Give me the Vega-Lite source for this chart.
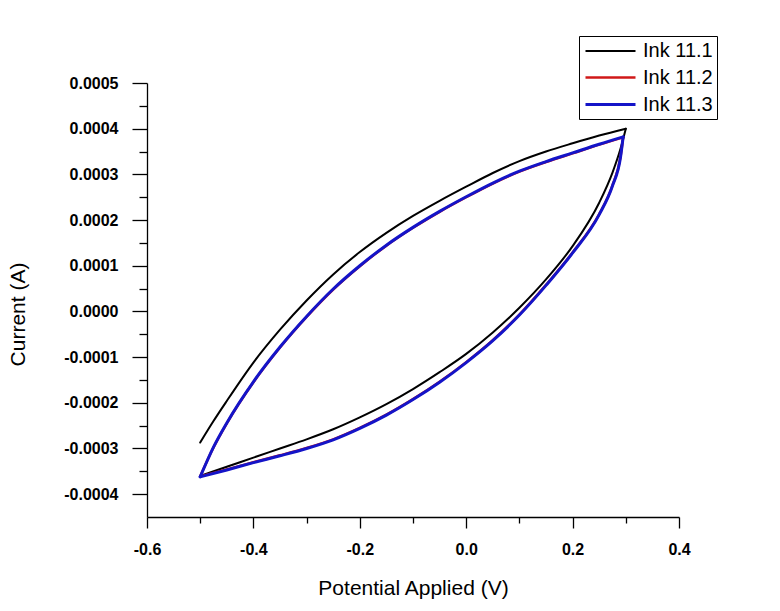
{
  "$schema": "https://vega.github.io/schema/vega-lite/v6.json",
  "width": 532,
  "height": 434,
  "autosize": {"type": "none"},
  "padding": {"left": 147, "top": 83, "right": 101, "bottom": 94},
  "background": "white",
  "config": {"view": {"stroke": null}},
  "data": {"values": [
    {"s": "Ink 11.1", "b": "lower", "x": -0.5, "y": -0.000360},
    {"s": "Ink 11.1", "b": "lower", "x": -0.45, "y": -0.000340},
    {"s": "Ink 11.1", "b": "lower", "x": -0.4, "y": -0.000320},
    {"s": "Ink 11.1", "b": "lower", "x": -0.35, "y": -0.000300},
    {"s": "Ink 11.1", "b": "lower", "x": -0.3, "y": -0.000280},
    {"s": "Ink 11.1", "b": "lower", "x": -0.25, "y": -0.000258},
    {"s": "Ink 11.1", "b": "lower", "x": -0.2, "y": -0.000232},
    {"s": "Ink 11.1", "b": "lower", "x": -0.15, "y": -0.000203},
    {"s": "Ink 11.1", "b": "lower", "x": -0.1, "y": -0.000170},
    {"s": "Ink 11.1", "b": "lower", "x": -0.05, "y": -0.000133},
    {"s": "Ink 11.1", "b": "lower", "x": 0.0, "y": -0.000093},
    {"s": "Ink 11.1", "b": "lower", "x": 0.05, "y": -0.000046},
    {"s": "Ink 11.1", "b": "lower", "x": 0.1, "y": 0.000008},
    {"s": "Ink 11.1", "b": "lower", "x": 0.15, "y": 0.000070},
    {"s": "Ink 11.1", "b": "lower", "x": 0.2, "y": 0.000143},
    {"s": "Ink 11.1", "b": "lower", "x": 0.25, "y": 0.000238},
    {"s": "Ink 11.1", "b": "lower", "x": 0.275, "y": 0.000304},
    {"s": "Ink 11.1", "b": "lower", "x": 0.29, "y": 0.000356},
    {"s": "Ink 11.1", "b": "lower", "x": 0.3, "y": 0.000400},
    {"s": "Ink 11.1", "b": "upper", "x": 0.3, "y": 0.000400},
    {"s": "Ink 11.1", "b": "upper", "x": 0.25, "y": 0.000385},
    {"s": "Ink 11.1", "b": "upper", "x": 0.2, "y": 0.000368},
    {"s": "Ink 11.1", "b": "upper", "x": 0.15, "y": 0.000350},
    {"s": "Ink 11.1", "b": "upper", "x": 0.1, "y": 0.000329},
    {"s": "Ink 11.1", "b": "upper", "x": 0.05, "y": 0.000303},
    {"s": "Ink 11.1", "b": "upper", "x": 0.0, "y": 0.000273},
    {"s": "Ink 11.1", "b": "upper", "x": -0.05, "y": 0.000242},
    {"s": "Ink 11.1", "b": "upper", "x": -0.1, "y": 0.000209},
    {"s": "Ink 11.1", "b": "upper", "x": -0.15, "y": 0.000172},
    {"s": "Ink 11.1", "b": "upper", "x": -0.2, "y": 0.000130},
    {"s": "Ink 11.1", "b": "upper", "x": -0.25, "y": 0.000081},
    {"s": "Ink 11.1", "b": "upper", "x": -0.3, "y": 0.000024},
    {"s": "Ink 11.1", "b": "upper", "x": -0.35, "y": -0.000040},
    {"s": "Ink 11.1", "b": "upper", "x": -0.4, "y": -0.000112},
    {"s": "Ink 11.1", "b": "upper", "x": -0.45, "y": -0.000196},
    {"s": "Ink 11.1", "b": "upper", "x": -0.475, "y": -0.000240},
    {"s": "Ink 11.1", "b": "upper", "x": -0.5, "y": -0.000287},

    {"s": "Ink 11.2", "b": "lower", "x": -0.5, "y": -0.000361},
    {"s": "Ink 11.2", "b": "lower", "x": -0.45, "y": -0.000346},
    {"s": "Ink 11.2", "b": "lower", "x": -0.4, "y": -0.000330},
    {"s": "Ink 11.2", "b": "lower", "x": -0.35, "y": -0.000315},
    {"s": "Ink 11.2", "b": "lower", "x": -0.3, "y": -0.000299},
    {"s": "Ink 11.2", "b": "lower", "x": -0.25, "y": -0.000280},
    {"s": "Ink 11.2", "b": "lower", "x": -0.2, "y": -0.000255},
    {"s": "Ink 11.2", "b": "lower", "x": -0.15, "y": -0.000226},
    {"s": "Ink 11.2", "b": "lower", "x": -0.1, "y": -0.000192},
    {"s": "Ink 11.2", "b": "lower", "x": -0.05, "y": -0.000154},
    {"s": "Ink 11.2", "b": "lower", "x": 0.0, "y": -0.000111},
    {"s": "Ink 11.2", "b": "lower", "x": 0.05, "y": -0.000063},
    {"s": "Ink 11.2", "b": "lower", "x": 0.1, "y": -0.000007},
    {"s": "Ink 11.2", "b": "lower", "x": 0.15, "y": 0.000058},
    {"s": "Ink 11.2", "b": "lower", "x": 0.2, "y": 0.000129},
    {"s": "Ink 11.2", "b": "lower", "x": 0.25, "y": 0.000213},
    {"s": "Ink 11.2", "b": "lower", "x": 0.275, "y": 0.000276},
    {"s": "Ink 11.2", "b": "lower", "x": 0.29, "y": 0.000338},
    {"s": "Ink 11.2", "b": "lower", "x": 0.295, "y": 0.000381},
    {"s": "Ink 11.2", "b": "upper", "x": 0.295, "y": 0.000381},
    {"s": "Ink 11.2", "b": "upper", "x": 0.25, "y": 0.000365},
    {"s": "Ink 11.2", "b": "upper", "x": 0.2, "y": 0.000346},
    {"s": "Ink 11.2", "b": "upper", "x": 0.15, "y": 0.000327},
    {"s": "Ink 11.2", "b": "upper", "x": 0.1, "y": 0.000306},
    {"s": "Ink 11.2", "b": "upper", "x": 0.05, "y": 0.000280},
    {"s": "Ink 11.2", "b": "upper", "x": 0.0, "y": 0.000250},
    {"s": "Ink 11.2", "b": "upper", "x": -0.05, "y": 0.000218},
    {"s": "Ink 11.2", "b": "upper", "x": -0.1, "y": 0.000183},
    {"s": "Ink 11.2", "b": "upper", "x": -0.15, "y": 0.000144},
    {"s": "Ink 11.2", "b": "upper", "x": -0.2, "y": 0.000099},
    {"s": "Ink 11.2", "b": "upper", "x": -0.25, "y": 0.000048},
    {"s": "Ink 11.2", "b": "upper", "x": -0.3, "y": -0.000012},
    {"s": "Ink 11.2", "b": "upper", "x": -0.35, "y": -0.000079},
    {"s": "Ink 11.2", "b": "upper", "x": -0.4, "y": -0.000155},
    {"s": "Ink 11.2", "b": "upper", "x": -0.45, "y": -0.000245},
    {"s": "Ink 11.2", "b": "upper", "x": -0.475, "y": -0.000298},
    {"s": "Ink 11.2", "b": "upper", "x": -0.5, "y": -0.000361},

    {"s": "Ink 11.3", "b": "lower", "x": -0.5, "y": -0.000362},
    {"s": "Ink 11.3", "b": "lower", "x": -0.45, "y": -0.000347},
    {"s": "Ink 11.3", "b": "lower", "x": -0.4, "y": -0.000331},
    {"s": "Ink 11.3", "b": "lower", "x": -0.35, "y": -0.000316},
    {"s": "Ink 11.3", "b": "lower", "x": -0.3, "y": -0.000300},
    {"s": "Ink 11.3", "b": "lower", "x": -0.25, "y": -0.000281},
    {"s": "Ink 11.3", "b": "lower", "x": -0.2, "y": -0.000256},
    {"s": "Ink 11.3", "b": "lower", "x": -0.15, "y": -0.000227},
    {"s": "Ink 11.3", "b": "lower", "x": -0.1, "y": -0.000193},
    {"s": "Ink 11.3", "b": "lower", "x": -0.05, "y": -0.000155},
    {"s": "Ink 11.3", "b": "lower", "x": 0.0, "y": -0.000112},
    {"s": "Ink 11.3", "b": "lower", "x": 0.05, "y": -0.000064},
    {"s": "Ink 11.3", "b": "lower", "x": 0.1, "y": -0.000008},
    {"s": "Ink 11.3", "b": "lower", "x": 0.15, "y": 0.000057},
    {"s": "Ink 11.3", "b": "lower", "x": 0.2, "y": 0.000128},
    {"s": "Ink 11.3", "b": "lower", "x": 0.25, "y": 0.000212},
    {"s": "Ink 11.3", "b": "lower", "x": 0.275, "y": 0.000275},
    {"s": "Ink 11.3", "b": "lower", "x": 0.29, "y": 0.000337},
    {"s": "Ink 11.3", "b": "lower", "x": 0.295, "y": 0.000382},
    {"s": "Ink 11.3", "b": "upper", "x": 0.295, "y": 0.000382},
    {"s": "Ink 11.3", "b": "upper", "x": 0.25, "y": 0.000366},
    {"s": "Ink 11.3", "b": "upper", "x": 0.2, "y": 0.000347},
    {"s": "Ink 11.3", "b": "upper", "x": 0.15, "y": 0.000328},
    {"s": "Ink 11.3", "b": "upper", "x": 0.1, "y": 0.000307},
    {"s": "Ink 11.3", "b": "upper", "x": 0.05, "y": 0.000281},
    {"s": "Ink 11.3", "b": "upper", "x": 0.0, "y": 0.000251},
    {"s": "Ink 11.3", "b": "upper", "x": -0.05, "y": 0.000219},
    {"s": "Ink 11.3", "b": "upper", "x": -0.1, "y": 0.000184},
    {"s": "Ink 11.3", "b": "upper", "x": -0.15, "y": 0.000145},
    {"s": "Ink 11.3", "b": "upper", "x": -0.2, "y": 0.000100},
    {"s": "Ink 11.3", "b": "upper", "x": -0.25, "y": 0.000049},
    {"s": "Ink 11.3", "b": "upper", "x": -0.3, "y": -0.000011},
    {"s": "Ink 11.3", "b": "upper", "x": -0.35, "y": -0.000078},
    {"s": "Ink 11.3", "b": "upper", "x": -0.4, "y": -0.000154},
    {"s": "Ink 11.3", "b": "upper", "x": -0.45, "y": -0.000244},
    {"s": "Ink 11.3", "b": "upper", "x": -0.475, "y": -0.000297},
    {"s": "Ink 11.3", "b": "upper", "x": -0.5, "y": -0.000362}
  ]},
  "resolve": {"scale": {"x": "shared", "y": "shared"}, "axis": {"x": "independent", "y": "independent"}},
  "layer": [
    {
      "mark": {"type": "point", "opacity": 0},
      "encoding": {
        "x": {
          "field": "x", "type": "quantitative",
          "scale": {"domain": [-0.6, 0.4], "nice": false, "zero": false},
          "axis": {
            "orient": "bottom",
            "title": null, "labels": false, "domain": false, "grid": false,
            "values": [-0.5, -0.3, -0.1, 0.1, 0.3],
            "tickSize": 6, "tickColor": "#000000", "tickWidth": 1.3
          }
        },
        "y": {
          "field": "y", "type": "quantitative",
          "scale": {"domain": [-0.00045, 0.0005], "nice": false, "zero": false},
          "axis": {
            "orient": "left",
            "title": null, "labels": false, "domain": false, "grid": false,
            "values": [-0.00035, -0.00025, -0.00015, -0.00005, 0.00005, 0.00015, 0.00025, 0.00035, 0.00045],
            "tickSize": 8, "tickColor": "#000000", "tickWidth": 1.3
          }
        }
      }
    },
    {
      "mark": {"type": "line", "interpolate": "monotone", "strokeJoin": "round", "strokeCap": "round"},
      "encoding": {
        "x": {
          "field": "x", "type": "quantitative",
          "scale": {"domain": [-0.6, 0.4], "nice": false, "zero": false},
          "axis": {
            "orient": "bottom",
            "title": "Potential Applied (V)",
            "values": [-0.6, -0.4, -0.2, 0, 0.2, 0.4],
            "labelExpr": "(datum.value < -1e-9 ? '-' : '') + format(abs(datum.value), '.1f')",
            "tickSize": 11,
            "labelPadding": 13,
            "labelFont": "Liberation Sans", "labelFontSize": 16, "labelFontWeight": "bold", "labelColor": "#000000",
            "labelFlush": false, "labelOverlap": false,
            "grid": false,
            "domainColor": "#000000", "domainWidth": 1.3,
            "tickColor": "#000000", "tickWidth": 1.3,
            "titleFont": "Liberation Sans", "titleFontSize": 21, "titleFontWeight": "normal", "titleColor": "#000000",
            "titleBaseline": "alphabetic", "titleY": 77
          }
        },
        "y": {
          "field": "y", "type": "quantitative",
          "scale": {"domain": [-0.00045, 0.0005], "nice": false, "zero": false},
          "axis": {
            "orient": "left",
            "title": "Current (A)",
            "values": [-0.0004, -0.0003, -0.0002, -0.0001, 0, 0.0001, 0.0002, 0.0003, 0.0004, 0.0005],
            "labelExpr": "(datum.value < -1e-9 ? '-' : '') + format(abs(datum.value), '.4f')",
            "tickSize": 15,
            "labelPadding": 14,
            "labelFont": "Liberation Sans", "labelFontSize": 16, "labelFontWeight": "bold", "labelColor": "#000000",
            "labelFlush": false, "labelOverlap": false,
            "grid": false,
            "domainColor": "#000000", "domainWidth": 1.3,
            "tickColor": "#000000", "tickWidth": 1.3,
            "titleFont": "Liberation Sans", "titleFontSize": 21, "titleFontWeight": "normal", "titleColor": "#000000",
            "titleAngle": 270, "titleBaseline": "middle", "titleAlign": "center",
            "titleX": -128.5, "titleY": 231
          }
        },
        "color": {
          "field": "s", "type": "nominal",
          "scale": {"domain": ["Ink 11.1", "Ink 11.2", "Ink 11.3"], "range": ["#000000", "#d01818", "#1414c8"]},
          "legend": {
            "title": null,
            "orient": "none", "legendX": 432, "legendY": -47,
            "strokeColor": "#000000", "fillColor": "#ffffff",
            "padding": 4,
            "symbolType": "M-2.5,0L2.5,0", "symbolSize": 400, "symbolStrokeWidth": 3,
            "symbolOffset": 16,
            "labelOffset": 21,
            "labelFont": "Liberation Sans", "labelFontSize": 20, "labelColor": "#000000",
            "rowPadding": 5
          }
        },
        "detail": {"field": "b", "type": "nominal"},
        "strokeWidth": {
          "field": "s", "type": "nominal",
          "scale": {"domain": ["Ink 11.1", "Ink 11.2", "Ink 11.3"], "range": [2, 3, 3.2]},
          "legend": null
        }
      }
    }
  ]
}
